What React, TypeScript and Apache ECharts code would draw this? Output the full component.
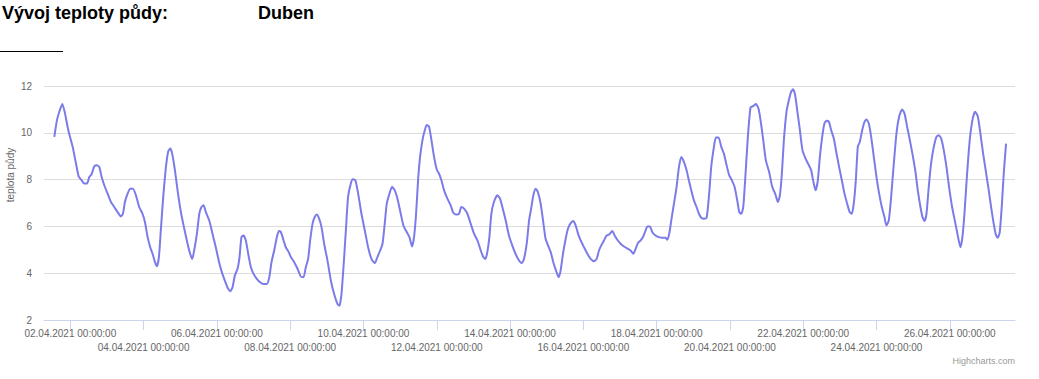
import React, { useEffect, useRef } from "react";
import * as echarts from "echarts";

// x positions in days from 02.04.2021 00:00:00
const dayOffsets: number[] = [
  -0.436, -0.364, -0.3, -0.218, -0.145, -0.055, 0.064, 0.155, 0.227, 0.309, 0.38, 0.455, 0.518, 0.58, 0.655, 0.727, 0.79, 0.855, 0.927,
  1.018, 1.109, 1.2, 1.29, 1.38, 1.436, 1.49, 1.564, 1.636, 1.71, 1.79, 1.88, 1.97,
  2.036, 2.11, 2.18, 2.245, 2.31, 2.364, 2.418, 2.47, 2.536, 2.61, 2.67, 2.727, 2.78, 2.855, 2.927,
  3.018, 3.11, 3.2, 3.27, 3.327, 3.38, 3.455, 3.52, 3.58, 3.636, 3.7, 3.79, 3.88, 3.97,
  4.06, 4.15, 4.245, 4.31, 4.364, 4.427, 4.49, 4.564, 4.618, 4.67, 4.727, 4.79, 4.855, 4.927,
  5.0, 5.09, 5.18, 5.27, 5.36, 5.43, 5.49, 5.564, 5.636, 5.69, 5.745, 5.82, 5.88, 5.96,
  6.018, 6.11, 6.2, 6.29, 6.364, 6.427, 6.49, 6.545, 6.61, 6.67, 6.727, 6.79, 6.855, 6.927,
  7.018, 7.11, 7.2, 7.29, 7.345, 7.4, 7.455, 7.52, 7.58, 7.655, 7.71, 7.78, 7.855, 7.945,
  8.036, 8.127, 8.218, 8.31, 8.38, 8.455, 8.52, 8.58, 8.636, 8.71, 8.78, 8.855, 8.927,
  9.018, 9.09, 9.18, 9.255, 9.327, 9.38, 9.436, 9.49, 9.545, 9.61, 9.67, 9.727, 9.79, 9.855, 9.927,
  10.0, 10.06, 10.127, 10.2, 10.29, 10.38, 10.455, 10.545, 10.61, 10.67, 10.745, 10.836, 10.927,
  11.018, 11.11, 11.2, 11.27, 11.327, 11.38, 11.436, 11.49, 11.56, 11.655, 11.727, 11.8, 11.88, 11.97,
  12.06, 12.15, 12.245, 12.318, 12.38, 12.455, 12.52, 12.57, 12.636, 12.7, 12.76, 12.836, 12.9, 12.97,
  13.036, 13.11, 13.18, 13.255, 13.327, 13.38, 13.445, 13.518, 13.58, 13.655, 13.727, 13.79, 13.855, 13.927,
  14.018, 14.11, 14.2, 14.29, 14.364, 14.427, 14.49, 14.564, 14.636, 14.71, 14.79, 14.855, 14.927,
  15.018, 15.11, 15.22, 15.29, 15.364, 15.427, 15.49, 15.564, 15.636, 15.7, 15.745, 15.818, 15.88, 15.97,
  16.064, 16.155, 16.245, 16.29, 16.345, 16.4, 16.473, 16.545, 16.61, 16.673, 16.745, 16.818, 16.88, 16.945,
  17.018, 17.09, 17.155, 17.218, 17.29, 17.364, 17.427, 17.49, 17.564, 17.618, 17.69, 17.764, 17.836, 17.91, 17.98,
  18.055, 18.127, 18.2, 18.255, 18.31, 18.364, 18.427, 18.49, 18.564, 18.636, 18.71, 18.78, 18.836, 18.91, 18.98,
  19.07, 19.155, 19.22, 19.255, 19.31, 19.364, 19.418, 19.473, 19.545, 19.61, 19.673, 19.727, 19.78, 19.836, 19.91, 19.98,
  20.064, 20.155, 20.218, 20.27, 20.336, 20.4, 20.455, 20.518, 20.58, 20.636, 20.7, 20.764, 20.836, 20.91, 20.98,
  21.064, 21.127, 21.2, 21.27, 21.327, 21.38, 21.436, 21.49, 21.545, 21.61, 21.673, 21.727, 21.79, 21.855, 21.927,
  22.0, 22.073, 22.145, 22.218, 22.27, 22.336, 22.4, 22.473, 22.545, 22.618, 22.7, 22.764, 22.836, 22.91, 22.98,
  23.064, 23.127, 23.2, 23.255, 23.31, 23.364, 23.427, 23.49, 23.564, 23.636, 23.7, 23.764, 23.836, 23.91, 23.98,
  24.064, 24.155, 24.218, 24.29, 24.345, 24.4, 24.473, 24.545, 24.618, 24.69, 24.764, 24.836, 24.91, 24.98,
  25.064, 25.127, 25.2, 25.255, 25.31, 25.364, 25.418, 25.473, 25.536,
];

// soil temperature (°C)
const soilTemp: number[] = [
  9.83, 10.54, 10.9, 11.23, 10.83, 10.11, 9.4, 8.69, 8.14, 7.97, 7.83, 7.83, 8.11, 8.23, 8.57, 8.61, 8.54, 8.11, 7.76,
  7.4, 7.04, 6.83, 6.61, 6.43, 6.54, 7.04, 7.4, 7.61, 7.61, 7.33, 6.83, 6.54,
  6.19, 5.54, 5.11, 4.83, 4.47, 4.3, 4.69, 5.83, 7.26, 8.54, 9.19, 9.33, 9.11, 8.4, 7.54,
  6.61, 5.9, 5.26, 4.83, 4.61, 4.97, 5.69, 6.54, 6.83, 6.9, 6.61, 6.26, 5.69, 5.11,
  4.47, 3.97, 3.57, 3.33, 3.23, 3.4, 3.9, 4.19, 4.69, 5.54, 5.61, 5.4, 4.83, 4.26,
  3.97, 3.76, 3.61, 3.54, 3.54, 3.83, 4.47, 4.97, 5.54, 5.8, 5.76, 5.4, 5.11, 4.9,
  4.69, 4.47, 4.19, 3.86, 3.83, 4.26, 4.61, 5.4, 6.11, 6.4, 6.51, 6.33, 5.97, 5.26,
  4.54, 3.69, 3.11, 2.69, 2.61, 3.11, 4.26, 5.83, 7.26, 7.83, 8.01, 7.97, 7.4, 6.54,
  5.83, 5.11, 4.61, 4.43, 4.69, 4.97, 5.26, 6.11, 6.97, 7.4, 7.69, 7.54, 7.19,
  6.54, 6.04, 5.76, 5.54, 5.14, 5.54, 6.54, 7.97, 8.97, 9.69, 10.09, 10.33, 10.26, 9.69, 8.97,
  8.43, 8.26, 7.97, 7.54, 7.19, 6.9, 6.57, 6.51, 6.54, 6.83, 6.76, 6.54, 6.11,
  5.69, 5.4, 4.97, 4.69, 4.61, 4.9, 5.54, 6.54, 7.04, 7.33, 7.19, 6.76, 6.26, 5.61,
  5.19, 4.83, 4.54, 4.43, 4.61, 5.26, 6.26, 6.7, 7.33, 7.61, 7.47, 6.97, 6.26, 5.47,
  5.19, 4.9, 4.47, 4.11, 3.83, 4.11, 4.83, 5.47, 5.9, 6.14, 6.23, 6.04, 5.69, 5.4,
  5.11, 4.83, 4.61, 4.51, 4.61, 4.97, 5.19, 5.4, 5.61, 5.66, 5.8, 5.61, 5.43,
  5.26, 5.14, 5.04, 4.97, 4.83, 5.04, 5.29, 5.4, 5.57, 5.83, 6.0, 6.0, 5.76, 5.61,
  5.54, 5.51, 5.51, 5.43, 5.69, 6.26, 6.97, 7.69, 8.54, 8.97, 8.76, 8.4, 7.97, 7.54,
  7.11, 6.83, 6.54, 6.37, 6.33, 6.37, 7.26, 8.54, 9.4, 9.8, 9.8, 9.4, 9.11, 8.61, 8.19,
  7.97, 7.69, 7.11, 6.61, 6.54, 6.83, 8.26, 9.83, 11.09, 11.14, 11.23, 11.04, 10.54, 9.69, 8.83,
  8.33, 7.69, 7.45, 7.3, 7.04, 7.33, 8.26, 9.69, 10.9, 11.4, 11.76, 11.86, 11.61, 10.97, 10.11, 9.26,
  8.9, 8.61, 8.4, 7.97, 7.54, 7.97, 8.97, 9.83, 10.4, 10.51, 10.47, 10.11, 9.76, 9.11, 8.54,
  7.9, 7.4, 6.97, 6.61, 6.54, 6.97, 7.97, 9.4, 9.61, 10.11, 10.47, 10.57, 10.4, 9.83, 8.97,
  8.11, 7.4, 6.83, 6.4, 6.04, 6.26, 7.26, 8.69, 9.97, 10.69, 11.0, 10.83, 10.26, 9.69, 9.11,
  8.33, 7.54, 6.83, 6.4, 6.23, 6.54, 7.69, 8.69, 9.4, 9.83, 9.9, 9.76, 9.26, 8.54, 7.69,
  6.83, 6.11, 5.61, 5.11, 5.54, 6.54, 8.26, 9.69, 10.54, 10.9, 10.71, 9.97, 9.11, 8.4,
  7.54, 6.83, 6.11, 5.66, 5.51, 5.76, 6.83, 8.26, 9.54,
];

// tick positions (days from 02.04.2021) and their labels
const tickDays: number[] = [0, 2, 4, 6, 8, 10, 12, 14, 16, 18, 20, 22, 24];
const tickLabels: string[] = [
  "02.04.2021 00:00:00", "04.04.2021 00:00:00", "06.04.2021 00:00:00", "08.04.2021 00:00:00",
  "10.04.2021 00:00:00", "12.04.2021 00:00:00", "14.04.2021 00:00:00", "16.04.2021 00:00:00",
  "18.04.2021 00:00:00", "20.04.2021 00:00:00", "22.04.2021 00:00:00", "24.04.2021 00:00:00",
  "26.04.2021 00:00:00",
];

export default function App() {
  const ref = useRef<HTMLDivElement>(null);
  useEffect(() => {
    if (!ref.current) return;
    const chart = echarts.init(ref.current, null, { renderer: "svg" });
    const font = "'Liberation Sans', Arial, sans-serif";
    const upperRow = tickDays.filter((_, i) => i % 2 === 0);
    const lowerRow = tickDays.filter((_, i) => i % 2 === 1);
    const labelFor = (v: number) => tickLabels[tickDays.indexOf(Math.round(v))] ?? "";
    const baseLabel = {
      showMinLabel: true,
      showMaxLabel: true,
      hideOverlap: false,
      fontFamily: font,
      fontSize: 10,
      color: "#666666",
      formatter: labelFor,
    };
    chart.setOption({
      animation: false,
      backgroundColor: "#ffffff",
      grid: { left: 44, right: 24, top: 86, bottom: 59, containLabel: false },
      xAxis: [
        {
          type: "value",
          min: -0.718,
          max: 25.78,
          position: "bottom",
          axisLine: { show: true, lineStyle: { color: "#ccd6eb", width: 1 } },
          axisTick: { show: true, length: 10, lineStyle: { color: "#ccd6eb" }, customValues: tickDays },
          splitLine: { show: false },
          axisLabel: { ...baseLabel, customValues: upperRow, margin: 8 },
        },
        {
          type: "value",
          min: -0.718,
          max: 25.78,
          position: "bottom",
          offset: 0,
          axisLine: { show: false },
          axisTick: { show: false },
          splitLine: { show: false },
          axisLabel: { ...baseLabel, customValues: lowerRow, margin: 22.5 },
        },
      ],
      yAxis: {
        type: "value",
        min: 2,
        max: 12,
        interval: 2,
        axisLine: { show: false },
        axisTick: { show: false },
        splitLine: { show: true, lineStyle: { color: "#dcdcdc", width: 1 } },
        axisLabel: { margin: 12, fontFamily: font, fontSize: 10, color: "#666666" },
      },
      series: [
        {
          type: "line",
          xAxisIndex: 0,
          data: dayOffsets.map((d, i) => [d, soilTemp[i]]),
          showSymbol: false,
          smooth: 0.2,
          lineStyle: { color: "#7b7bea", width: 2 },
          itemStyle: { color: "#7b7bea" },
        },
      ],
      graphic: [
        {
          type: "text",
          left: 2,
          top: 4,
          style: { text: "Vývoj teploty půdy:", fontFamily: font, fontWeight: "bold", fontSize: 18, fill: "#000" },
        },
        {
          type: "text",
          left: 258,
          top: 4,
          style: { text: "Duben", fontFamily: font, fontWeight: "bold", fontSize: 18, fill: "#000" },
        },
        {
          type: "line",
          shape: { x1: 0, y1: 51.5, x2: 63, y2: 51.5 },
          style: { stroke: "#000", lineWidth: 1 },
        },
        {
          type: "text",
          x: 10,
          y: 175,
          rotation: Math.PI / 2,
          style: {
            text: "teplota půdy",
            fontFamily: font,
            fontSize: 10,
            fill: "#666666",
            align: "center",
            verticalAlign: "middle",
          },
        },
        {
          type: "text",
          x: 1015,
          y: 361,
          style: {
            text: "Highcharts.com",
            fontFamily: font,
            fontSize: 9,
            fill: "#999999",
            align: "right",
            verticalAlign: "middle",
          },
        },
      ],
    });
    return () => chart.dispose();
  }, []);
  return <div ref={ref} style={{ position: "absolute", left: 0, top: 0, width: 1039, height: 379 }} />;
}
